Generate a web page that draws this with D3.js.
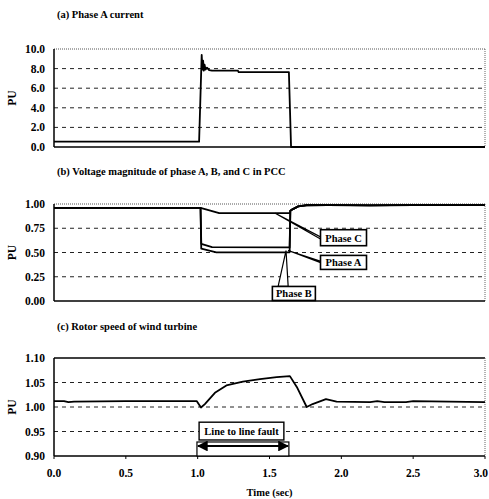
<!DOCTYPE html>
<html>
<head>
<meta charset="utf-8">
<script src="https://cdn.jsdelivr.net/npm/d3@7"></script>
<style>
  body { margin: 0; background: #fff; }
  text { font-family: "Liberation Serif", "Times New Roman", serif; font-weight: bold; fill: #000; }
</style>
</head>
<body>
<div class="wrapper"></div>
<script>
// ---- data ----
const xTicks = [0, 0.5, 1.0, 1.5, 2.0, 2.5, 3.0];

// (a) phase A current
const currentT = [0, 1.01, 1.028, 1.033, 1.038, 1.043, 1.048, 1.055, 1.065, 1.08, 1.1, 1.2, 1.28, 1.285, 1.635, 1.65, 3.0];
const currentV = [0.55, 0.55, 9.4, 7.9, 8.8, 7.8, 8.4, 7.9, 8.1, 7.85, 7.8, 7.8, 7.8, 7.65, 7.65, 0, 0];
const currentTicks = [0, 2, 4, 6, 8, 10];

// (b) voltage magnitude in PCC
const phaseAT = [0, 1.02, 1.025, 1.1, 1.64, 1.645, 1.66, 1.7, 1.76, 1.9, 2.2, 2.5, 3.0];
const phaseAV = [0.96, 0.96, 0.59, 0.555, 0.553, 0.93, 0.945, 0.975, 0.985, 0.988, 0.985, 0.988, 0.988];
const phaseBT = [0, 1.02, 1.025, 1.13, 1.64, 1.645, 1.66, 1.7, 1.76, 1.9, 2.2, 2.5, 3.0];
const phaseBV = [0.96, 0.96, 0.54, 0.502, 0.502, 0.93, 0.945, 0.975, 0.985, 0.988, 0.985, 0.988, 0.988];
const phaseCT = [0, 1.02, 1.15, 1.64, 1.645, 1.66, 1.7, 1.76, 1.9, 2.2, 2.5, 3.0];
const phaseCV = [0.96, 0.96, 0.905, 0.905, 0.93, 0.945, 0.975, 0.99, 0.99, 0.986, 0.99, 0.99];
const voltTicks = [0, 0.25, 0.5, 0.75, 1.0];

// (c) rotor speed
const rotorT = [0, 0.07, 0.1, 0.14, 0.5, 0.993, 1.023, 1.05, 1.12, 1.2, 1.315, 1.434, 1.55, 1.642, 1.69, 1.759, 1.8, 1.893, 1.967, 2.2, 2.25, 2.3, 2.45, 2.5, 3.0];
const rotorV = [1.012, 1.012, 1.010, 1.011, 1.012, 1.012, 0.999, 1.006, 1.029, 1.044, 1.052, 1.057, 1.061, 1.063, 1.041, 1.000, 1.006, 1.016, 1.011, 1.010, 1.012, 1.010, 1.010, 1.012, 1.010];
const rotorTicks = [0.90, 0.95, 1.00, 1.05, 1.10];

const faultStart = 0.995;
const faultEnd = 1.635;

// ---- layout ----
let width = 489;
let height = 499;
let left = 54;
let right = 485;

const svg = d3.select('.wrapper')
.append('svg')
.attr("width", width)
.attr("height", height);

svg.append("rect").attr("width", width).attr("height", height).attr("fill", "#fff");

let x = d3.scaleLinear().domain([0, 3]).range([left, right]);

let yA = d3.scaleLinear().domain([0, 10]).range([147, 49]);
let yB = d3.scaleLinear().domain([0, 1]).range([301, 204]);
let yC = d3.scaleLinear().domain([0.9, 1.1]).range([456, 358]);

function makePanel(y, ticks, fmt, title, titleY, solidTop) {
  let g = svg.append("g");
  let [y0, y1] = y.range();

  g.append("text")
  .attr("x", 57)
  .attr("y", titleY)
  .attr("font-size", 10.5)
  .text(title);

  // gridlines
  g.selectAll(".grid")
  .data(ticks.slice(1, -1))
  .enter()
  .append("line")
  .attr("x1", left).attr("x2", right)
  .attr("y1", d => y(d)).attr("y2", d => y(d))
  .attr("stroke", "#222")
  .attr("stroke-width", 1)
  .attr("stroke-dasharray", "4,4");

  // top + right border
  g.append("line")
  .attr("x1", left).attr("x2", right)
  .attr("y1", y1).attr("y2", y1)
  .attr("stroke", solidTop ? "#000" : "#555")
  .attr("stroke-width", solidTop ? 1.5 : 1)
  .attr("stroke-dasharray", solidTop ? null : "1,1");

  g.append("line")
  .attr("x1", right).attr("x2", right)
  .attr("y1", y1).attr("y2", y0)
  .attr("stroke", "#666")
  .attr("stroke-width", 1)
  .attr("stroke-dasharray", "1,1");

  // left + bottom axes
  g.append("line")
  .attr("x1", left).attr("x2", left)
  .attr("y1", y1).attr("y2", y0)
  .attr("stroke", "#000").attr("stroke-width", 1.5);

  g.append("line")
  .attr("x1", left).attr("x2", right)
  .attr("y1", y0).attr("y2", y0)
  .attr("stroke", "#000").attr("stroke-width", 1.5);

  g.selectAll(".tick")
  .data(ticks)
  .enter()
  .append("text")
  .attr("x", 45)
  .attr("y", d => y(d) + 4)
  .attr("text-anchor", "end")
  .attr("font-size", 11.5)
  .text(d => fmt(d));

  g.append("text")
  .attr("transform", `translate(16,${(y0 + y1) / 2}) rotate(-90)`)
  .attr("text-anchor", "middle")
  .attr("font-size", 11.5)
  .text("PU");

  return g;
}

function drawSeries(g, y, ts, vs) {
  let pts = ts.map((t, i) => [t, vs[i]]);
  g.append("path")
  .datum(pts)
  .attr("fill", "none")
  .attr("stroke", "#000")
  .attr("stroke-width", 1.8)
  .attr("stroke-linejoin", "round")
  .attr("d", d3.line().x(d => x(d[0])).y(d => y(d[1])));
}

let panelA = makePanel(yA, currentTicks, d3.format(".1f"), "(a) Phase A current", 18, false);
drawSeries(panelA, yA, currentT, currentV);

let panelB = makePanel(yB, voltTicks, d3.format(".2f"), "(b) Voltage magnitude of phase A, B, and C  in PCC", 175, false);
drawSeries(panelB, yB, phaseCT, phaseCV);
drawSeries(panelB, yB, phaseAT, phaseAV);
drawSeries(panelB, yB, phaseBT, phaseBV);

let panelC = makePanel(yC, rotorTicks, d3.format(".2f"), "(c) Rotor speed of wind turbine", 330, true);
drawSeries(panelC, yC, rotorT, rotorV);

// x axis labels (bottom panel only)
svg.selectAll(".xlab")
.data(xTicks)
.enter()
.append("text")
.attr("x", d => d == 3 ? width - 1 : x(d))
.attr("y", 477)
.attr("text-anchor", d => d == 3 ? "end" : "middle")
.attr("font-size", 11.5)
.text(d => d3.format(".1f")(d));

svg.selectAll(".xtick")
.data(xTicks)
.enter()
.append("line")
.attr("x1", d => x(d)).attr("x2", d => x(d))
.attr("y1", 456).attr("y2", 459)
.attr("stroke", "#000");

svg.append("text")
.attr("x", x(1.5))
.attr("y", 496)
.attr("text-anchor", "middle")
.attr("font-size", 10.5)
.text("Time (sec)");

// ---- callouts in panel (b) ----
function callout(label, bx, by, bw, bh, leader) {
  let g = svg.append("g");
  g.append("path")
  .attr("d", d3.line()(leader))
  .attr("fill", "#fff")
  .attr("stroke", "#000")
  .attr("stroke-width", 1.2);
  g.append("rect")
  .attr("x", bx).attr("y", by)
  .attr("width", bw).attr("height", bh)
  .attr("fill", "#fff")
  .attr("stroke", "#000")
  .attr("stroke-width", 1.6);
  g.append("text")
  .attr("x", bx + bw / 2)
  .attr("y", by + bh / 2 + 4)
  .attr("text-anchor", "middle")
  .attr("font-size", 10.5)
  .text(label);
}

callout("Phase C", x(1.855), yB(0.735), 46, 16,
  [[x(1.54), yB(0.905)], [x(1.855), yB(0.66)], [x(1.855), yB(0.64)], [x(1.54), yB(0.905)]]);
callout("Phase A", x(1.855), yB(0.47), 46, 14,
  [[x(1.63), yB(0.52)], [x(1.855), yB(0.41)], [x(1.855), yB(0.395)], [x(1.63), yB(0.52)]]);
callout("Phase B", x(1.52), yB(0.15), 43, 14,
  [[x(1.615), yB(0.52)], [x(1.56), yB(0.15)], [x(1.63), yB(0.15)], [x(1.615), yB(0.52)]]);

// ---- fault duration marker in panel (c) ----
svg.append("defs").selectAll("marker")
.data(["s", "e"])
.enter()
.append("marker")
.attr("id", d => "arr" + d)
.attr("viewBox", "0 0 10 10")
.attr("refX", 9).attr("refY", 5)
.attr("markerWidth", 6).attr("markerHeight", 6)
.attr("orient", "auto-start-reverse")
.append("path")
.attr("d", "M0,0L10,5L0,10Z")
.attr("fill", "#000");

svg.append("rect")
.attr("x", x(faultStart)).attr("y", yC(0.9286))
.attr("width", x(faultEnd) - x(faultStart)).attr("height", yC(0.9) - yC(0.9286))
.attr("fill", "#fff").attr("stroke", "#000").attr("stroke-width", 1.2);

svg.append("line")
.attr("x1", x(faultStart) + 1).attr("x2", x(faultEnd) - 1)
.attr("y1", yC(0.9204)).attr("y2", yC(0.9204))
.attr("stroke", "#000").attr("stroke-width", 1.8)
.attr("marker-start", "url(#arrs)")
.attr("marker-end", "url(#arre)");

svg.append("rect")
.attr("x", x(1.01)).attr("y", yC(0.969))
.attr("width", x(1.6) - x(1.01)).attr("height", yC(0.9327) - yC(0.969))
.attr("fill", "#fff").attr("stroke", "#000").attr("stroke-width", 1.4);

svg.append("text")
.attr("x", (x(1.01) + x(1.6)) / 2)
.attr("y", yC(0.969) + 13)
.attr("text-anchor", "middle")
.attr("font-size", 10.5)
.text("Line to line fault");
</script>
</body>
</html>
